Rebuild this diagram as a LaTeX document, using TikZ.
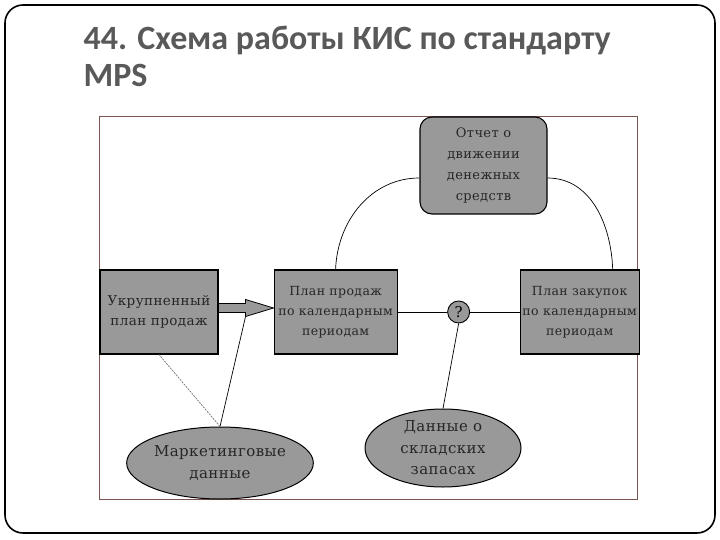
\documentclass[tikz,border=0pt]{standalone}
\usepackage{fontspec}
\usepackage{tikz}
\usetikzlibrary{calc,positioning,shapes.geometric}
\newfontfamily\titlefont{Carlito}
\newfontfamily\boxfont{DejaVu Serif}[LetterSpace=3]
\definecolor{boxgray}{RGB}{153,153,153}
\definecolor{framebrown}{RGB}{120,85,80}
\definecolor{titlegray}{RGB}{89,89,89}

\begin{document}
\begin{tikzpicture}[
  x=1pt, y=-1pt,
  box/.style={draw, line width=1.1pt, fill=boxgray, align=center,
              minimum height=84pt, inner sep=1pt, text=black!85,
              font=\boxfont\fontsize{12.5}{20}\selectfont},
  report/.style={box, rounded corners=12pt, minimum width=127pt,
                 minimum height=97pt, font=\boxfont\fontsize{13}{21}\selectfont},
  source/.style={draw, line width=1pt, fill=boxgray, ellipse, inner sep=0pt,
                 align=center, text=black!85,
                 font=\boxfont\fontsize{15}{21.5}\selectfont},
  link/.style={draw, line width=0.7pt},
  title/.style={anchor=base west, text=titlegray,
                font=\titlefont\bfseries\fontsize{34}{37}\selectfont}
]
  \useasboundingbox (0,0) rectangle (720,540);
  % slide frame and title
  \draw[line width=1.6pt, rounded corners=18pt] (5,5) rectangle (715,533);
  \node[title] (title1) at (80,50) {44. Схема работы КИС по стандарту};
  \node[title] (title2) at ($(title1.base west)+(0,37)$) {MPS};
  \draw[framebrown, line width=0.8pt] (99,116) rectangle (637,499);

  % plans
  \node[box, minimum width=118pt, font=\boxfont\fontsize{13.5}{20}\selectfont]
    (ukr) at (159,312) {Укрупненный\\план продаж};
  \node[box, minimum width=123pt, right=55pt of ukr] (sales)
    {План продаж\\по календарным\\периодам};
  \node[box, minimum width=119pt, right=122pt of sales] (purch)
    {План закупок\\по календарным\\периодам};
  \node[report] (cash) at (483.5,165.5) {Отчет о\\движении\\денежных\\средств};
  \node[draw, circle, line width=0.9pt, fill=boxgray, minimum size=22pt,
        inner sep=0pt, font=\boxfont\fontsize{15}{15}\selectfont]
    (q) at ($(sales.east)!0.5!(purch.west)$) {?};

  % data sources
  \node[source, minimum width=164pt, minimum height=72pt] (mkt) at (220,463)
    {Маркетинговые\\данные};
  \node[source, minimum width=156pt, minimum height=78pt] (stock) at (443,448)
    {Данные о\\складских\\запасах};

  % block arrow
  \draw[line width=0.8pt, fill=boxgray]
    ($(ukr.east)+(0,-8.5)$) -- ++(27,0) -- ++(0,-4) -- ($(sales.west)+(0,-4)$)
    -- ++(-28,8.5) coordinate (headlow) -- ++(0,-4) -- ++(-27,0) -- cycle;

  % links
  \draw[link] (sales.east) -- (q.west);
  \draw[link] (q.east) -- (purch.west);
  \draw[link] (stock.north) -- (q.south);
  \draw[link] (mkt.north) -- (headlow);
  \draw[link, black!55, dash pattern=on 2pt off 1pt] (mkt.north) -- (ukr.south);
  \coordinate (purchtop) at ($(purch.north)+(33,0)$);
  \draw[link] (sales.north) to[out=88, in=180] ($(cash.west)+(0,12.5)$);
  \draw[link] ($(cash.east)+(0,12.5)$) to[out=0, in=92] (purchtop);
\end{tikzpicture}
\end{document}
